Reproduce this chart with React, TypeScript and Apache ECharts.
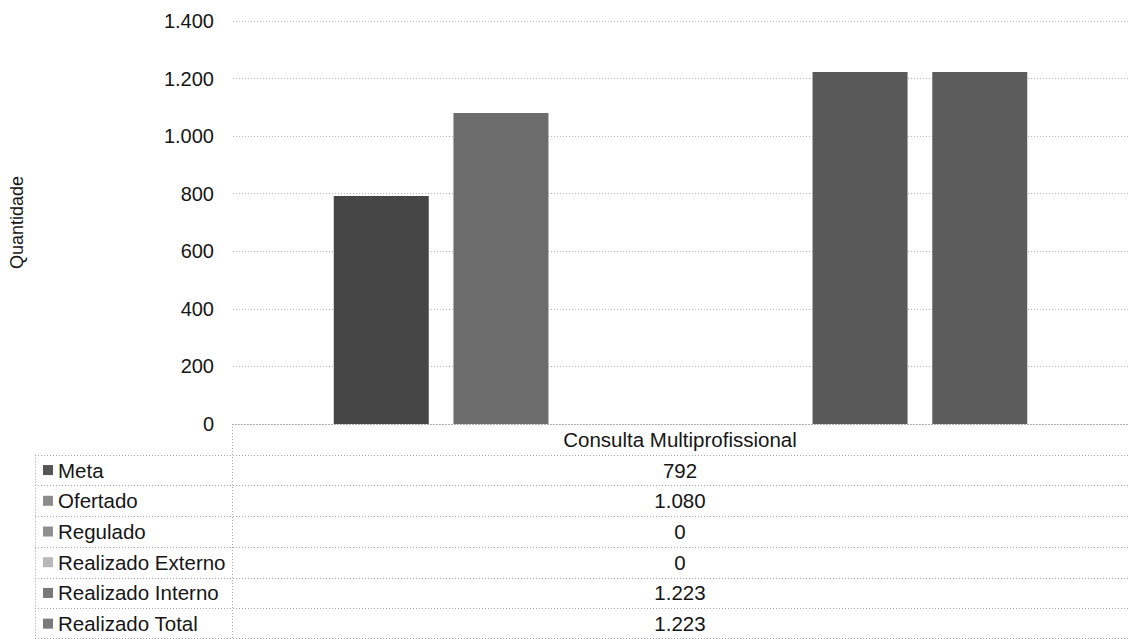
import React, { useEffect, useRef } from "react";
import * as echarts from "echarts";

const categories = ["Consulta Multiprofissional"];
const seriesNames = ["Meta", "Ofertado", "Regulado", "Realizado Externo", "Realizado Interno", "Realizado Total"];
const seriesValues = [792, 1080, 0, 0, 1223, 1223];
const barColors = ["#464646", "#6c6c6c", "#8a8a8a", "#ababab", "#595959", "#5c5c5c"];
const markerColors = ["#555555", "#8c8c8c", "#8f8f8f", "#b8b8b8", "#777777", "#7a7a7a"];
const yMin = 0;
const yMax = 1400;
const yInterval = 200;
const yAxisTitle = "Quantidade";

const W = 1128;
const H = 639;
const gridLeft = 232;
const gridTop = 21;
const zeroY = 424;
const tableLeft = 35;
const rowH = (H - zeroY) / 7;
const FONT = "'Liberation Sans', Arial, sans-serif";
const TXT = "#161616";
const TABLE_FS = 20.5;

const fmt = (v: number) => String(v).replace(/\B(?=(\d{3})+(?!\d))/g, ".");

export default function App() {
  const ref = useRef<HTMLDivElement>(null);
  useEffect(() => {
    document.body.style.margin = "0";
    const chart = echarts.init(ref.current!, undefined, { renderer: "svg" });
    const dotted = { stroke: "#a8a8a8", lineWidth: 1, lineDash: [1, 2] };
    const graphics: any[] = [];
    graphics.push({ type: "line", shape: { x1: gridLeft, y1: zeroY + 0.5, x2: W, y2: zeroY + 0.5 }, style: dotted, silent: true });
    for (let i = 1; i <= 7; i++) {
      const y = Math.min(Math.round(zeroY + i * rowH) + 0.5, H - 0.5);
      graphics.push({ type: "line", shape: { x1: tableLeft, y1: y, x2: W, y2: y }, style: dotted, silent: true });
    }
    graphics.push({ type: "line", shape: { x1: gridLeft + 0.5, y1: zeroY, x2: gridLeft + 0.5, y2: H }, style: dotted, silent: true });
    graphics.push({ type: "line", shape: { x1: tableLeft + 0.5, y1: zeroY + rowH, x2: tableLeft + 0.5, y2: H }, style: dotted, silent: true });
    const colCenter = (gridLeft + W) / 2;
    graphics.push({
      type: "text",
      x: colCenter,
      y: zeroY + rowH / 2,
      style: { text: categories[0], font: `${TABLE_FS}px ${FONT}`, fill: TXT, align: "center", verticalAlign: "middle" },
      silent: true,
    });
    seriesNames.forEach((name, i) => {
      const cy = zeroY + rowH * (i + 1) + rowH / 2;
      graphics.push({ type: "rect", shape: { x: 43, y: cy - 5, width: 10, height: 10 }, style: { fill: markerColors[i] }, silent: true });
      graphics.push({
        type: "text",
        x: 58,
        y: cy,
        style: { text: name, font: `${TABLE_FS}px ${FONT}`, fill: TXT, align: "left", verticalAlign: "middle" },
        silent: true,
      });
      graphics.push({
        type: "text",
        x: colCenter,
        y: cy,
        style: { text: fmt(seriesValues[i]), font: `${TABLE_FS}px ${FONT}`, fill: TXT, align: "center", verticalAlign: "middle" },
        silent: true,
      });
    });

    chart.setOption({
      animation: false,
      backgroundColor: "#ffffff",
      grid: { left: gridLeft, right: 0, top: gridTop, bottom: H - zeroY, containLabel: false },
      xAxis: {
        type: "category",
        data: categories,
        axisLine: { show: false },
        axisTick: { show: false },
        axisLabel: { show: false },
      },
      yAxis: {
        type: "value",
        min: yMin,
        max: yMax,
        interval: yInterval,
        name: yAxisTitle,
        nameLocation: "middle",
        nameRotate: 90,
        nameGap: 207,
        nameTextStyle: { fontFamily: FONT, fontSize: 18, color: TXT },
        axisLine: { show: false },
        axisTick: { show: false },
        axisLabel: { formatter: (v: number) => fmt(v), fontFamily: FONT, fontSize: 20, color: TXT, margin: 19 },
        splitLine: { lineStyle: { color: "#b8b8b8", type: [1, 2], width: 1 } },
      },
      series: seriesNames.map((name, i) => ({
        name,
        type: "bar",
        data: [seriesValues[i]],
        barWidth: 95,
        barGap: "26%",
        itemStyle: { color: barColors[i] },
      })),
      graphic: graphics,
    });
    return () => chart.dispose();
  }, []);
  return <div ref={ref} style={{ width: W, height: H }} />;
}
